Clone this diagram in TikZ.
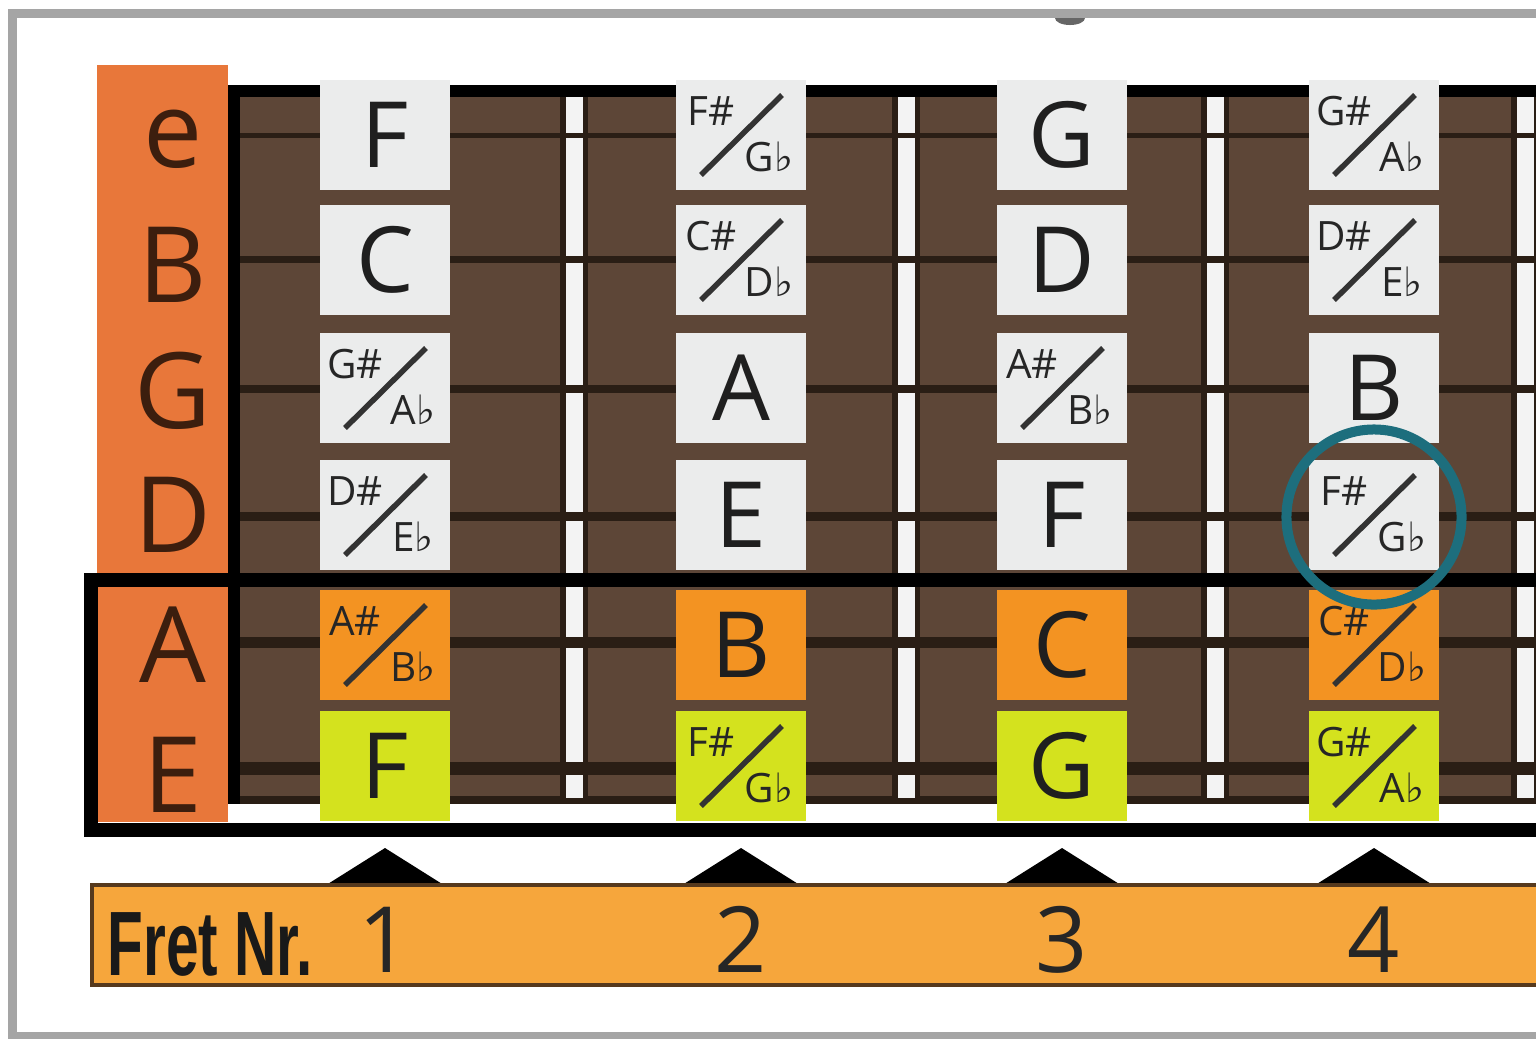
\documentclass[tikz,border=0pt]{standalone}
\usepackage{fontspec}
\setmainfont{Open Sans}
\newfontfamily\flatfont{DejaVu Sans}
\newfontfamily\narrowfont{Liberation Sans}
\usetikzlibrary{calc}
\definecolor{labelorange}{HTML}{E8773A}
\definecolor{board}{HTML}{5D4637}
\definecolor{wire}{HTML}{F3F3F3}
\definecolor{gut}{HTML}{2A1E15}
\definecolor{plain}{HTML}{EBECEC}
\definecolor{aorange}{HTML}{F39322}
\definecolor{elime}{HTML}{D4E21E}
\definecolor{barorange}{HTML}{F6A63C}
\definecolor{ringteal}{HTML}{1D6E7D}
\definecolor{ink}{HTML}{3C1E0E}
\definecolor{framegray}{HTML}{A5A5A5}
\newcommand{\fb}{{\flatfont\bfseries\fontsize{11.5}{11.5}\selectfont ♭}}
\newcommand{\plainnote}[5]{\node[notebox, fill=#4] (#1) at (#2,#3) {#5};}
\newcommand{\splitnote}[6]{%
  \node[notebox, fill=#4] (#1) at (#2,#3) {};
  \node[halfnote] (#1up) at ($(#1)+(-30,-24)$) {#5};
  \node[halfnote] (#1dn) at ($(#1)+(28,22)$) {#6\fb};
  \draw[slashline] ($(#1)+(-40,40)$) -- ($(#1)+(41,-40)$);}
\tikzset{
  notebox/.style={minimum width=1.3cm, minimum height=1.1cm, inner sep=0pt, text=black!88, font=\fontsize{26}{26}\selectfont},
  halfnote/.style={inner sep=0pt, text=black!85, font=\fontsize{11.5}{11.5}\selectfont},
  slashline/.style={line width=0.055cm, black!80},
  stringname/.style={anchor=base, inner sep=0pt, text=ink, font=\fontsize{30}{30}\selectfont},
  fretnum/.style={anchor=base, inner sep=0pt, text=black!85, font=\fontsize{26}{26}\selectfont}
}
\begin{document}
\begin{tikzpicture}[x=0.01cm, y=-0.01cm]
  \useasboundingbox (0,0) rectangle (1536,1038);
  \clip (0,0) rectangle (1536,1038);
  \fill[white] (0,0) rectangle (1536,1038);
  \draw[framegray, line width=0.09cm] (12.5,13.5) rectangle (1600,1036);
  \fill[black!60] (1055,18) arc[start angle=180, end angle=360, x radius=0.15cm, y radius=0.07cm] -- cycle;

  \fill[labelorange] (97,65) rectangle (228,822);
  \fill[board] (228,85) rectangle (1600,804);
  \draw[black, line width=0.12cm] (228,91) -- (1600,91);
  \draw[black, line width=0.12cm] (234,85) -- (234,804);
  \draw[gut, line width=0.08cm] (240,800) -- (1600,800);

  \foreach \fx in {574,906,1215,1525} {
    \draw[gut, line width=0.28cm] (\fx,97) -- (\fx,798);
    \draw[wire, line width=0.17cm] (\fx,97) -- (\fx,798);
  }
  \foreach \sy/\sw in {135/0.05cm, 259/0.07cm, 389/0.08cm, 516/0.09cm, 642/0.11cm, 768/0.13cm}
    \draw[gut, line width=\sw] (240,\sy) -- (1600,\sy);

  \foreach \nm/\by [count=\i] in {e/167, B/302, G/428, D/552, A/682, E/812}
    \node[stringname] (str\i) at (173,\by) {\nm};

  \draw[black, line width=0.14cm] (91,580) rectangle (1600,830);

  \plainnote{f1e}{385}{135}{plain}{F}
  \plainnote{f1b}{385}{260}{plain}{C}
  \splitnote{f1g}{385}{388}{plain}{G\#}{A}
  \splitnote{f1d}{385}{515}{plain}{D\#}{E}
  \splitnote{f1a}{385}{645}{aorange}{A\#}{B}
  \plainnote{f1low}{385}{766}{elime}{F}

  \splitnote{f2e}{741}{135}{plain}{F\#}{G}
  \splitnote{f2b}{741}{260}{plain}{C\#}{D}
  \plainnote{f2g}{741}{388}{plain}{A}
  \plainnote{f2d}{741}{515}{plain}{E}
  \plainnote{f2a}{741}{645}{aorange}{B}
  \splitnote{f2low}{741}{766}{elime}{F\#}{G}

  \plainnote{f3e}{1062}{135}{plain}{G}
  \plainnote{f3b}{1062}{260}{plain}{D}
  \splitnote{f3g}{1062}{388}{plain}{A\#}{B}
  \plainnote{f3d}{1062}{515}{plain}{F}
  \plainnote{f3a}{1062}{645}{aorange}{C}
  \plainnote{f3low}{1062}{766}{elime}{G}

  \splitnote{f4e}{1374}{135}{plain}{G\#}{A}
  \splitnote{f4b}{1374}{260}{plain}{D\#}{E}
  \plainnote{f4g}{1374}{388}{plain}{B}
  \splitnote{f4d}{1374}{515}{plain}{F\#}{G}
  \splitnote{f4a}{1374}{645}{aorange}{C\#}{D}
  \splitnote{f4low}{1374}{766}{elime}{G\#}{A}

  \foreach \cx in {385,741,1062,1374}
    \fill[black] (\cx-62,887) -- (\cx,848) -- (\cx+62,887) -- cycle;
  \filldraw[fill=barorange, draw=black!55!brown, line width=0.035cm] (92,885) rectangle (1600,985);
  \node[anchor=base west, inner sep=0pt, text=black!90, font=\narrowfont\bfseries\fontsize{26}{26}\selectfont] (fretnr) at (107,975) {\scalebox{0.64}[1]{Fret Nr.}};
  \foreach \cx [count=\i] in {385,741,1062,1374}
    \node[fretnum] (num\i) at (\cx,972) {\i};

  \node[circle, draw=ringteal, line width=0.1cm, minimum size=1.75cm, inner sep=0pt] (mark) at (1374,517) {};
\end{tikzpicture}
\end{document}
